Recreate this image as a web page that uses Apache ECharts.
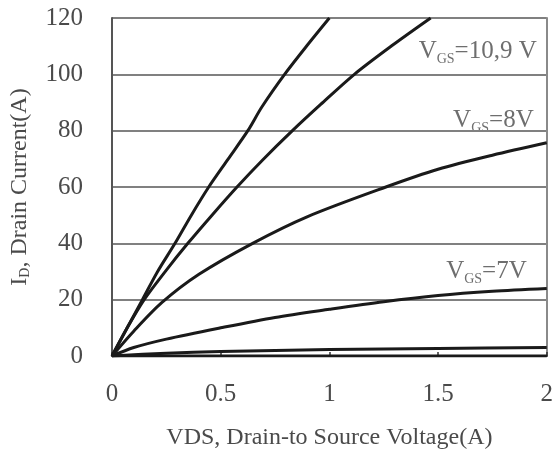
<!DOCTYPE html>
<html>
<head>
<meta charset="utf-8">
<script src="https://cdn.jsdelivr.net/npm/echarts@6/dist/echarts.min.js"></script>
<style>html,body{margin:0;padding:0;background:#fff}#c{width:556px;height:457px}</style>
</head>
<body>
<div id="c"></div>
<script>
// Data (VDS in V, ID in A)
const vgs10 = [[0,0],[0.07,10],[0.14,20],[0.21,30],[0.29,40],[0.365,50],[0.445,60],[0.535,70],[0.625,80],[0.69,88.5],[0.794,100],[0.9,110.5],[1.0,120]];
const vgs9 = [[0,0],[0.07,10],[0.148,20],[0.25,30.5],[0.349,40],[0.46,50],[0.575,60],[0.693,69.6],[0.83,80],[0.96,89.3],[1.115,100],[1.29,110.3],[1.466,120]];
const vgs8 = [[0,0],[0.1,8.8],[0.23,19],[0.4,29],[0.647,40],[0.9,49.5],[1.26,60],[1.5,66.3],[1.75,71.3],[2,75.7]];
const vgs7 = [[0,0],[0.1,3],[0.25,6],[0.5,10],[0.75,13.7],[1.0,16.6],[1.25,19.3],[1.5,21.5],[1.75,23],[2,24]];
const vgs6 = [[0,0],[0.25,1],[0.5,1.6],[1.0,2.3],[1.5,2.7],[2,3]];
const vgs5 = [[0,0],[0.5,0],[1,0],[1.5,0],[2,0]];
const xTicks = ['0','0.5','1','1.5','2'];
const yTicks = ['0','20','40','60','80','100','120'];
const labelTexts = ['10,9 V','8V','7V'];

const FONT = '"Liberation Serif", "Times New Roman", serif';
const chart = echarts.init(document.getElementById('c'), null, {renderer:'canvas'});
const lineStyle = {color:'#1a1a1a', width:3};
function curve(d){
  return {type:'line', data:d, smooth:0.3, showSymbol:false, symbol:'none', lineStyle:lineStyle, z:3, silent:true};
}
function lbl(t){
  return '{v|V}{s|GS}{v|=' + t + '}';
}
const rich = {
  v:{fontFamily:FONT, fontSize:25, color:'#4a4a4a', verticalAlign:'bottom', lineHeight:28},
  s:{fontFamily:FONT, fontSize:14, color:'#4a4a4a', verticalAlign:'bottom', lineHeight:28, padding:[0,0,-2,0]}
};
const option = {
  animation:false,
  backgroundColor:'#fff',
  grid:{left:112, right:8, top:18, bottom:101, containLabel:false},
  xAxis:{
    type:'value', min:0, max:2, interval:0.5,
    axisLine:{show:true, onZero:false, lineStyle:{color:'#333', width:2}},
    axisTick:{show:true, inside:true, length:4, lineStyle:{color:'#333', width:1.5}},
    splitLine:{show:false},
    axisLabel:{margin:26, fontFamily:FONT, fontSize:25, color:'#4a4a4a',
      formatter:(v)=>xTicks[Math.round(v/0.5)]},
    name:'VDS, Drain-to Source Voltage(A)', nameLocation:'middle', nameGap:70,
    nameTextStyle:{fontFamily:FONT, fontSize:24, color:'#4a4a4a'}
  },
  yAxis:[{
    type:'value', min:0, max:120, interval:20,
    axisLine:{show:true, lineStyle:{color:'#555', width:2}},
    axisTick:{show:false},
    splitLine:{show:true, lineStyle:{color:'#808080', width:2}},
    axisLabel:{margin:29, fontFamily:FONT, fontSize:25, color:'#4a4a4a',
      formatter:(v)=>yTicks[Math.round(v/20)]},
    name:'{a|I}{b|D}{a|, Drain Current(A)}', nameLocation:'middle', nameGap:80, nameRotate:90,
    nameTextStyle:{rich:{
      a:{fontFamily:FONT, fontSize:24, color:'#4a4a4a', verticalAlign:'bottom', lineHeight:26},
      b:{fontFamily:FONT, fontSize:14, color:'#4a4a4a', verticalAlign:'bottom', lineHeight:26}
    }}
  },{
    type:'value', min:0, max:120, interval:20, position:'right',
    axisLine:{show:true, lineStyle:{color:'#8a8a8a', width:2}},
    axisTick:{show:false}, axisLabel:{show:false}, splitLine:{show:false}
  }],
  series:[
    curve(vgs10), curve(vgs9), curve(vgs8), curve(vgs7), curve(vgs6), curve(vgs5),
    {type:'scatter', symbolSize:0, silent:true, z:-1,
     data:[[1.954,108.7],[1.94,84.2],[1.908,30.5]],
     label:{show:true, position:'left', distance:0,
       formatter:(p)=>lbl(labelTexts[p.dataIndex]), rich:rich}
    }
  ]
};
chart.setOption(option);
</script>
</body>
</html>
